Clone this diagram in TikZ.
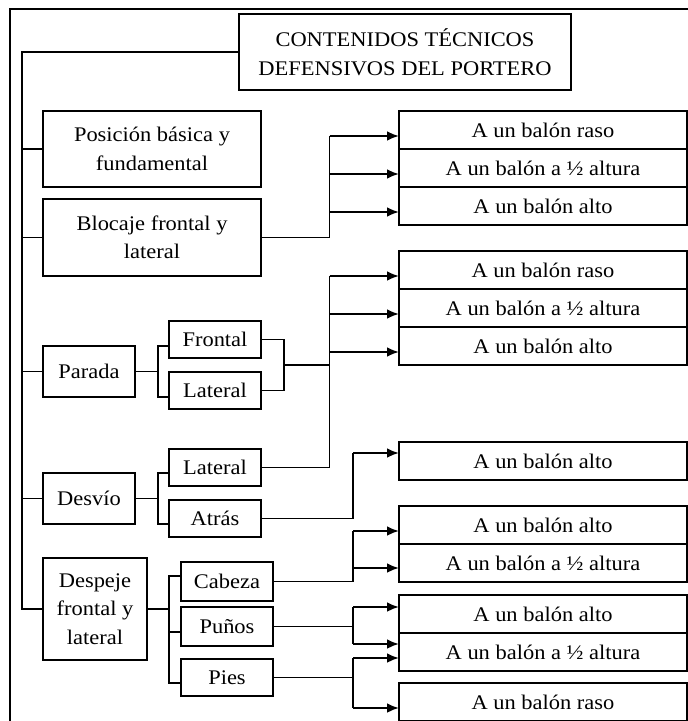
\documentclass[tikz,border=0pt]{standalone}
\usepackage{fontspec}
\setmainfont{Liberation Serif}[FakeStretch=1.08]
\usepackage{tikz}
\usetikzlibrary{arrows.meta,calc,positioning}
\tikzstyle{box}  =[draw, line width=0.9pt, inner sep=0pt,
                   outer sep=0pt, align=center,
                   font=\fontsize{10.4pt}{14.25pt}\selectfont]
\tikzstyle{rbox} =[box, minimum width=144pt, minimum height=19pt]
\tikzstyle{mbox} =[box, minimum width=109pt, minimum height=38pt]
\tikzstyle{sbox} =[box, minimum width=46pt, minimum height=18.5pt]
\tikzstyle{link} =[line width=0.7pt]
\tikzstyle{arrow}=[line width=1.3pt, -{Latex[length=6pt,width=5pt]}]
\tikzstyle{frame}=[line width=0.9pt]

\begin{document}
\begin{tikzpicture}[x=0.5pt,y=-0.5pt]

        \useasboundingbox (0,0) rectangle (688,721);
        \clip (0,0) rectangle (688,721);
        \draw[frame] (10,9) rectangle (700,740);

        % left column
        \node (titulo)[box, minimum width=166pt, minimum height=38pt] at (405,52)
            {CONTENIDOS TÉCNICOS\\DEFENSIVOS DEL PORTERO};
        \node (posicion)[mbox] at (152,149) {Posición básica y\\fundamental};
        \node (blocaje)[mbox, minimum height=38.5pt] at (152,237.5) {Blocaje frontal y\\lateral};
        \node (parada)[sbox, minimum height=25.5pt] at (89,371.5) {Parada};
        \node (desvio)[sbox, minimum height=25.5pt] at (89,498.5) {Desvío};
        \node (despeje)[sbox, minimum width=52pt, minimum height=51pt] at (95,609)
            {Despeje\\frontal y\\lateral};

        \node (pfrontal)[sbox] at (215,339.5) {Frontal};
        \node (plateral)[sbox] at (215,390.5) {Lateral};
        \node (dlateral)[sbox] at (215,467.5) {Lateral};
        \node (datras)[sbox] at (215,518.5) {Atrás};
        \node (cabeza)[sbox, minimum height=19.5pt] at (227,581.5) {Cabeza};
        \node (punos)[sbox, minimum height=19.5pt] at (227,626.5) {Puños};
        \node (pies)[sbox] at (227,677.5) {Pies};

        % right column
        \node (a1)[rbox, anchor=north west] at (399,111) {A un balón raso};
        \node (a2)[rbox, below=0pt of a1] {A un balón a ½ altura};
        \node (a3)[rbox, below=0pt of a2] {A un balón alto};

        \node (b1)[rbox, anchor=north west] at (399,251) {A un balón raso};
        \node (b2)[rbox, below=0pt of b1] {A un balón a ½ altura};
        \node (b3)[rbox, below=0pt of b2] {A un balón alto};

        \node (c1)[rbox, anchor=north west] at (399,442) {A un balón alto};

        \node (d1)[rbox, anchor=north west] at (399,506) {A un balón alto};
        \node (d2)[rbox, below=0pt of d1] {A un balón a ½ altura};

        \node (e1)[rbox, anchor=north west] at (399,595) {A un balón alto};
        \node (e2)[rbox, below=0pt of e1] {A un balón a ½ altura};

        \node (f1)[rbox, anchor=north west] at (399,683) {A un balón raso};

        \coordinate (tronco) at (22,0);
        \coordinate (rama) at (158,0);
        \coordinate (rama2) at (169,0);
        \coordinate (union) at (284,0);
        \coordinate (busa) at (329.5,0);
        \coordinate (busb) at (353,0);

        % trunk
        \draw[link] (titulo.west) -| (tronco |- despeje.west) -- (despeje.west);
        \foreach \n in {posicion,blocaje,parada,desvio}
            \draw[link] (tronco |- \n.west) -- (\n.west);

        % parada
        \draw[link] (parada.east) -- (rama |- parada.east);
        \draw[link] ([yshift=-3.25pt]pfrontal.west) -| (rama |- parada.east)
            |- ([yshift=-3.25pt]plateral.west);
        \draw[link] (pfrontal.east) -| (union |- plateral.east) -- (plateral.east);
        \coordinate (juntar) at ($(union |- pfrontal.east)!0.5!(union |- plateral.east)$);
        \draw[link] (juntar) -- (busa |- juntar);

        % desvio
        \draw[link] (desvio.east) -- (rama |- desvio.east);
        \draw[link] ([yshift=-2.75pt]dlateral.west) -| (rama |- desvio.east)
            |- ([yshift=-2.75pt]datras.west);

        % despeje
        \draw[link] (despeje.east) -- (rama2 |- despeje.east);
        \draw[link] ([yshift=2.75pt]cabeza.west) -| (rama2 |- despeje.east)
            |- ([yshift=-2.75pt]pies.west);
        \draw[link] ([yshift=-2.75pt]punos.west -| rama2) -- ([yshift=-2.75pt]punos.west);

        % buses
        \draw[link] (blocaje.east) -| ([yshift=-3pt]a1.west -| busa);
        \draw[link] (dlateral.east) -| ([yshift=-3pt]b1.west -| busa);
        \draw[link] (datras.east) -| ([yshift=4pt]c1.west -| busb);
        \draw[link] (cabeza.east) -| ([yshift=-3pt]d1.west -| busb);
        \draw[link] (punos.east) -- (punos.east -| busb);
        \draw[link] ([yshift=3.5pt]e1.west -| busb) -- ([yshift=4pt]e2.west -| busb);
        \draw[link] (pies.east) -- (pies.east -| busb);
        \draw[link] ([yshift=-3pt]e2.west -| busb) -- ([yshift=-3pt]f1.west -| busb);

        \foreach \r in {a1,a2,a3,b1,b2,b3}
            \draw[arrow] ([yshift=-3pt]\r.west -| busa) -- ([yshift=-3pt]\r.west);
        \foreach \r/\s in {c1/4pt,d1/-3pt,d2/-2.5pt,e1/3.5pt,e2/4pt,e2/-3pt,f1/-3pt}
            \draw[arrow] ([yshift=\s]\r.west -| busb) -- ([yshift=\s]\r.west);

\end{tikzpicture}
\end{document}
